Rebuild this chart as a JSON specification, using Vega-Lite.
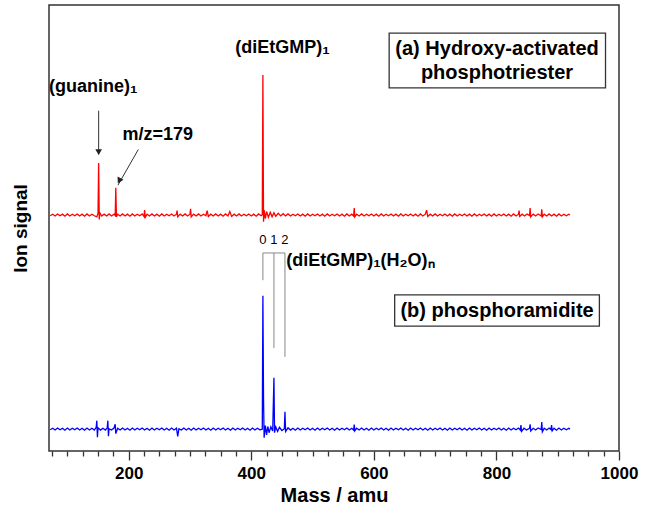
{
  "$schema": "https://vega.github.io/schema/vega-lite/v6.json",
  "width": 570,
  "height": 446,
  "autosize": {"type": "none"},
  "padding": {"left": 49, "top": 5, "right": 26, "bottom": 63},
  "background": "white",
  "config": {
    "view": {"stroke": "#333", "strokeWidth": 1.5},
    "font": "Liberation Sans"
  },
  "datasets": {
    "spectra": [
      {"m":72,"s":52.75,"k":"a"},{"m":76,"s":53.1,"k":"a"},{"m":80,"s":52.7,"k":"a"},{"m":84,"s":53.15,"k":"a"},{"m":88,"s":52.75,"k":"a"},{"m":92,"s":53.1,"k":"a"},{"m":96,"s":52.65,"k":"a"},{"m":100,"s":53.15,"k":"a"},{"m":104,"s":52.7,"k":"a"},{"m":108,"s":53.1,"k":"a"},{"m":112,"s":52.75,"k":"a"},{"m":116,"s":53.15,"k":"a"},{"m":120,"s":52.7,"k":"a"},{"m":124,"s":53.1,"k":"a"},{"m":128,"s":52.65,"k":"a"},{"m":132,"s":53.15,"k":"a"},{"m":136,"s":52.7,"k":"a"},{"m":140,"s":53.1,"k":"a"},{"m":144,"s":52.75,"k":"a"},{"m":148,"s":52.5,"k":"a"},{"m":150,"s":53.3,"k":"a"},{"m":151,"s":64.6,"k":"a"},{"m":152,"s":51.9,"k":"a"},{"m":153,"s":53.4,"k":"a"},{"m":156,"s":52.7,"k":"a"},{"m":160,"s":53.1,"k":"a"},{"m":164,"s":52.7,"k":"a"},{"m":168,"s":53.15,"k":"a"},{"m":172,"s":52.7,"k":"a"},{"m":176,"s":53.1,"k":"a"},{"m":178,"s":52.8,"k":"a"},{"m":179,"s":59.0,"k":"a"},{"m":180,"s":52.5,"k":"a"},{"m":182,"s":53.1,"k":"a"},{"m":186,"s":52.7,"k":"a"},{"m":190,"s":53.15,"k":"a"},{"m":194,"s":52.7,"k":"a"},{"m":198,"s":53.1,"k":"a"},{"m":202,"s":52.65,"k":"a"},{"m":206,"s":53.15,"k":"a"},{"m":210,"s":52.7,"k":"a"},{"m":214,"s":53.1,"k":"a"},{"m":218,"s":52.75,"k":"a"},{"m":222,"s":53.15,"k":"a"},{"m":225,"s":52.6,"k":"a"},{"m":226,"s":54.0,"k":"a"},{"m":227,"s":52.4,"k":"a"},{"m":230,"s":53.1,"k":"a"},{"m":234,"s":52.7,"k":"a"},{"m":238,"s":53.15,"k":"a"},{"m":242,"s":52.7,"k":"a"},{"m":246,"s":53.1,"k":"a"},{"m":250,"s":52.65,"k":"a"},{"m":254,"s":53.15,"k":"a"},{"m":258,"s":52.7,"k":"a"},{"m":262,"s":53.1,"k":"a"},{"m":266,"s":52.75,"k":"a"},{"m":270,"s":53.15,"k":"a"},{"m":274,"s":52.7,"k":"a"},{"m":278,"s":53.1,"k":"a"},{"m":279,"s":53.9,"k":"a"},{"m":280,"s":52.5,"k":"a"},{"m":284,"s":53.1,"k":"a"},{"m":288,"s":52.7,"k":"a"},{"m":292,"s":53.15,"k":"a"},{"m":296,"s":52.7,"k":"a"},{"m":300,"s":53.1,"k":"a"},{"m":301,"s":54.3,"k":"a"},{"m":302,"s":52.5,"k":"a"},{"m":306,"s":53.1,"k":"a"},{"m":310,"s":52.7,"k":"a"},{"m":314,"s":53.15,"k":"a"},{"m":318,"s":52.7,"k":"a"},{"m":322,"s":53.1,"k":"a"},{"m":326,"s":52.75,"k":"a"},{"m":328,"s":53.9,"k":"a"},{"m":330,"s":52.6,"k":"a"},{"m":334,"s":53.1,"k":"a"},{"m":338,"s":52.7,"k":"a"},{"m":342,"s":53.15,"k":"a"},{"m":346,"s":52.7,"k":"a"},{"m":350,"s":53.1,"k":"a"},{"m":354,"s":52.65,"k":"a"},{"m":358,"s":53.15,"k":"a"},{"m":362,"s":52.7,"k":"a"},{"m":365,"s":53.7,"k":"a"},{"m":368,"s":52.6,"k":"a"},{"m":372,"s":53.1,"k":"a"},{"m":376,"s":52.7,"k":"a"},{"m":380,"s":53.15,"k":"a"},{"m":384,"s":52.7,"k":"a"},{"m":388,"s":53.1,"k":"a"},{"m":392,"s":52.75,"k":"a"},{"m":396,"s":53.15,"k":"a"},{"m":400,"s":52.7,"k":"a"},{"m":404,"s":53.1,"k":"a"},{"m":408,"s":52.65,"k":"a"},{"m":412,"s":53.15,"k":"a"},{"m":416,"s":52.75,"k":"a"},{"m":418,"s":53.0,"k":"a"},{"m":419,"s":84.3,"k":"a"},{"m":420,"s":51.4,"k":"a"},{"m":421,"s":54.0,"k":"a"},{"m":423,"s":52.1,"k":"a"},{"m":425,"s":53.7,"k":"a"},{"m":428,"s":52.4,"k":"a"},{"m":431,"s":53.5,"k":"a"},{"m":434,"s":52.5,"k":"a"},{"m":437,"s":53.4,"k":"a"},{"m":440,"s":52.6,"k":"a"},{"m":444,"s":53.3,"k":"a"},{"m":448,"s":52.7,"k":"a"},{"m":452,"s":53.2,"k":"a"},{"m":456,"s":52.7,"k":"a"},{"m":460,"s":53.15,"k":"a"},{"m":464,"s":52.7,"k":"a"},{"m":468,"s":53.1,"k":"a"},{"m":472,"s":52.75,"k":"a"},{"m":476,"s":53.15,"k":"a"},{"m":480,"s":52.7,"k":"a"},{"m":484,"s":53.1,"k":"a"},{"m":488,"s":52.65,"k":"a"},{"m":492,"s":53.15,"k":"a"},{"m":496,"s":52.7,"k":"a"},{"m":500,"s":53.1,"k":"a"},{"m":504,"s":52.75,"k":"a"},{"m":508,"s":53.15,"k":"a"},{"m":512,"s":52.7,"k":"a"},{"m":516,"s":53.1,"k":"a"},{"m":520,"s":52.65,"k":"a"},{"m":524,"s":53.15,"k":"a"},{"m":528,"s":52.7,"k":"a"},{"m":532,"s":53.1,"k":"a"},{"m":536,"s":52.75,"k":"a"},{"m":540,"s":53.15,"k":"a"},{"m":544,"s":52.7,"k":"a"},{"m":548,"s":53.1,"k":"a"},{"m":552,"s":52.65,"k":"a"},{"m":556,"s":53.15,"k":"a"},{"m":560,"s":52.7,"k":"a"},{"m":564,"s":53.1,"k":"a"},{"m":567,"s":52.7,"k":"a"},{"m":568,"s":54.5,"k":"a"},{"m":569,"s":52.5,"k":"a"},{"m":572,"s":53.1,"k":"a"},{"m":576,"s":52.7,"k":"a"},{"m":580,"s":53.15,"k":"a"},{"m":584,"s":52.7,"k":"a"},{"m":588,"s":53.1,"k":"a"},{"m":592,"s":52.75,"k":"a"},{"m":596,"s":53.15,"k":"a"},{"m":600,"s":52.7,"k":"a"},{"m":604,"s":53.1,"k":"a"},{"m":608,"s":52.65,"k":"a"},{"m":612,"s":53.15,"k":"a"},{"m":616,"s":52.7,"k":"a"},{"m":620,"s":53.1,"k":"a"},{"m":624,"s":52.75,"k":"a"},{"m":628,"s":53.15,"k":"a"},{"m":632,"s":52.7,"k":"a"},{"m":636,"s":53.1,"k":"a"},{"m":640,"s":52.65,"k":"a"},{"m":644,"s":53.15,"k":"a"},{"m":648,"s":52.7,"k":"a"},{"m":652,"s":53.1,"k":"a"},{"m":656,"s":52.75,"k":"a"},{"m":660,"s":53.15,"k":"a"},{"m":664,"s":52.7,"k":"a"},{"m":668,"s":53.1,"k":"a"},{"m":672,"s":52.65,"k":"a"},{"m":676,"s":53.15,"k":"a"},{"m":680,"s":52.7,"k":"a"},{"m":684,"s":53.1,"k":"a"},{"m":686,"s":54.0,"k":"a"},{"m":688,"s":52.6,"k":"a"},{"m":692,"s":53.1,"k":"a"},{"m":696,"s":52.7,"k":"a"},{"m":700,"s":53.15,"k":"a"},{"m":704,"s":52.7,"k":"a"},{"m":708,"s":53.1,"k":"a"},{"m":712,"s":52.75,"k":"a"},{"m":716,"s":53.15,"k":"a"},{"m":720,"s":52.7,"k":"a"},{"m":724,"s":53.1,"k":"a"},{"m":728,"s":52.65,"k":"a"},{"m":732,"s":53.15,"k":"a"},{"m":736,"s":52.7,"k":"a"},{"m":740,"s":53.1,"k":"a"},{"m":744,"s":52.75,"k":"a"},{"m":748,"s":53.15,"k":"a"},{"m":752,"s":52.7,"k":"a"},{"m":756,"s":53.1,"k":"a"},{"m":760,"s":52.65,"k":"a"},{"m":764,"s":53.15,"k":"a"},{"m":768,"s":52.7,"k":"a"},{"m":772,"s":53.1,"k":"a"},{"m":776,"s":52.75,"k":"a"},{"m":780,"s":53.15,"k":"a"},{"m":784,"s":52.7,"k":"a"},{"m":788,"s":53.1,"k":"a"},{"m":792,"s":52.65,"k":"a"},{"m":796,"s":53.15,"k":"a"},{"m":800,"s":52.7,"k":"a"},{"m":804,"s":53.1,"k":"a"},{"m":808,"s":52.75,"k":"a"},{"m":812,"s":53.15,"k":"a"},{"m":816,"s":52.7,"k":"a"},{"m":820,"s":53.1,"k":"a"},{"m":824,"s":52.65,"k":"a"},{"m":828,"s":53.15,"k":"a"},{"m":832,"s":52.7,"k":"a"},{"m":836,"s":53.1,"k":"a"},{"m":837,"s":53.9,"k":"a"},{"m":838,"s":52.6,"k":"a"},{"m":842,"s":53.1,"k":"a"},{"m":846,"s":52.7,"k":"a"},{"m":850,"s":53.15,"k":"a"},{"m":854,"s":52.8,"k":"a"},{"m":855,"s":54.5,"k":"a"},{"m":856,"s":52.5,"k":"a"},{"m":860,"s":53.1,"k":"a"},{"m":864,"s":52.7,"k":"a"},{"m":868,"s":53.15,"k":"a"},{"m":873,"s":52.7,"k":"a"},{"m":874,"s":54.2,"k":"a"},{"m":875,"s":52.5,"k":"a"},{"m":878,"s":53.1,"k":"a"},{"m":882,"s":52.7,"k":"a"},{"m":886,"s":53.15,"k":"a"},{"m":890,"s":52.7,"k":"a"},{"m":894,"s":53.1,"k":"a"},{"m":898,"s":52.65,"k":"a"},{"m":902,"s":53.15,"k":"a"},{"m":906,"s":52.7,"k":"a"},{"m":910,"s":53.1,"k":"a"},{"m":914,"s":52.75,"k":"a"},{"m":918,"s":53.1,"k":"a"},{"m":920,"s":52.9,"k":"a"},
      {"m":72,"s":4.75,"k":"b"},{"m":76,"s":5.1,"k":"b"},{"m":80,"s":4.7,"k":"b"},{"m":84,"s":5.15,"k":"b"},{"m":88,"s":4.75,"k":"b"},{"m":92,"s":5.1,"k":"b"},{"m":96,"s":4.65,"k":"b"},{"m":100,"s":5.15,"k":"b"},{"m":104,"s":4.7,"k":"b"},{"m":108,"s":5.1,"k":"b"},{"m":112,"s":4.75,"k":"b"},{"m":116,"s":5.15,"k":"b"},{"m":120,"s":4.7,"k":"b"},{"m":124,"s":5.1,"k":"b"},{"m":128,"s":4.65,"k":"b"},{"m":132,"s":5.15,"k":"b"},{"m":136,"s":4.7,"k":"b"},{"m":140,"s":5.1,"k":"b"},{"m":144,"s":4.7,"k":"b"},{"m":147,"s":5.3,"k":"b"},{"m":148,"s":6.8,"k":"b"},{"m":149,"s":3.1,"k":"b"},{"m":150,"s":5.2,"k":"b"},{"m":154,"s":4.7,"k":"b"},{"m":158,"s":5.1,"k":"b"},{"m":162,"s":4.7,"k":"b"},{"m":165,"s":5.2,"k":"b"},{"m":166,"s":6.8,"k":"b"},{"m":167,"s":3.3,"k":"b"},{"m":168,"s":5.0,"k":"b"},{"m":172,"s":4.7,"k":"b"},{"m":176,"s":5.15,"k":"b"},{"m":178,"s":6.0,"k":"b"},{"m":179,"s":3.9,"k":"b"},{"m":182,"s":5.1,"k":"b"},{"m":186,"s":4.7,"k":"b"},{"m":190,"s":5.15,"k":"b"},{"m":194,"s":4.7,"k":"b"},{"m":198,"s":5.1,"k":"b"},{"m":202,"s":4.65,"k":"b"},{"m":206,"s":5.15,"k":"b"},{"m":210,"s":4.7,"k":"b"},{"m":214,"s":5.1,"k":"b"},{"m":218,"s":4.75,"k":"b"},{"m":222,"s":5.15,"k":"b"},{"m":226,"s":4.7,"k":"b"},{"m":230,"s":5.1,"k":"b"},{"m":234,"s":4.65,"k":"b"},{"m":238,"s":5.15,"k":"b"},{"m":242,"s":4.7,"k":"b"},{"m":246,"s":5.1,"k":"b"},{"m":250,"s":4.75,"k":"b"},{"m":254,"s":5.15,"k":"b"},{"m":258,"s":4.7,"k":"b"},{"m":262,"s":5.1,"k":"b"},{"m":266,"s":4.65,"k":"b"},{"m":270,"s":5.15,"k":"b"},{"m":274,"s":4.7,"k":"b"},{"m":278,"s":5.1,"k":"b"},{"m":280,"s":3.3,"k":"b"},{"m":282,"s":5.0,"k":"b"},{"m":286,"s":4.7,"k":"b"},{"m":290,"s":5.15,"k":"b"},{"m":294,"s":4.7,"k":"b"},{"m":298,"s":5.1,"k":"b"},{"m":302,"s":4.65,"k":"b"},{"m":306,"s":5.15,"k":"b"},{"m":310,"s":4.7,"k":"b"},{"m":314,"s":5.1,"k":"b"},{"m":318,"s":4.75,"k":"b"},{"m":322,"s":5.15,"k":"b"},{"m":326,"s":4.7,"k":"b"},{"m":330,"s":5.1,"k":"b"},{"m":334,"s":4.65,"k":"b"},{"m":338,"s":5.15,"k":"b"},{"m":342,"s":4.7,"k":"b"},{"m":346,"s":5.1,"k":"b"},{"m":350,"s":4.75,"k":"b"},{"m":354,"s":5.15,"k":"b"},{"m":358,"s":4.7,"k":"b"},{"m":362,"s":5.1,"k":"b"},{"m":366,"s":4.65,"k":"b"},{"m":370,"s":5.15,"k":"b"},{"m":374,"s":4.7,"k":"b"},{"m":378,"s":5.1,"k":"b"},{"m":382,"s":4.75,"k":"b"},{"m":386,"s":5.15,"k":"b"},{"m":390,"s":4.7,"k":"b"},{"m":394,"s":5.1,"k":"b"},{"m":398,"s":4.65,"k":"b"},{"m":402,"s":5.15,"k":"b"},{"m":406,"s":4.7,"k":"b"},{"m":410,"s":5.1,"k":"b"},{"m":414,"s":4.75,"k":"b"},{"m":418,"s":4.9,"k":"b"},{"m":419,"s":34.8,"k":"b"},{"m":420,"s":11.9,"k":"b"},{"m":421,"s":3.0,"k":"b"},{"m":423,"s":5.7,"k":"b"},{"m":425,"s":3.6,"k":"b"},{"m":427,"s":5.5,"k":"b"},{"m":429,"s":4.1,"k":"b"},{"m":432,"s":5.4,"k":"b"},{"m":435,"s":4.5,"k":"b"},{"m":437,"s":16.4,"k":"b"},{"m":438,"s":4.1,"k":"b"},{"m":440,"s":5.4,"k":"b"},{"m":443,"s":4.4,"k":"b"},{"m":446,"s":5.3,"k":"b"},{"m":450,"s":4.6,"k":"b"},{"m":454,"s":5.0,"k":"b"},{"m":455,"s":8.8,"k":"b"},{"m":456,"s":4.4,"k":"b"},{"m":460,"s":5.2,"k":"b"},{"m":464,"s":4.7,"k":"b"},{"m":468,"s":5.1,"k":"b"},{"m":472,"s":4.65,"k":"b"},{"m":476,"s":5.15,"k":"b"},{"m":480,"s":4.7,"k":"b"},{"m":484,"s":5.1,"k":"b"},{"m":488,"s":4.75,"k":"b"},{"m":492,"s":5.15,"k":"b"},{"m":496,"s":4.7,"k":"b"},{"m":500,"s":5.1,"k":"b"},{"m":504,"s":4.65,"k":"b"},{"m":508,"s":5.15,"k":"b"},{"m":512,"s":4.7,"k":"b"},{"m":516,"s":5.1,"k":"b"},{"m":520,"s":4.75,"k":"b"},{"m":524,"s":5.15,"k":"b"},{"m":528,"s":4.7,"k":"b"},{"m":532,"s":5.1,"k":"b"},{"m":536,"s":4.65,"k":"b"},{"m":540,"s":5.15,"k":"b"},{"m":544,"s":4.7,"k":"b"},{"m":548,"s":5.1,"k":"b"},{"m":552,"s":4.75,"k":"b"},{"m":556,"s":5.15,"k":"b"},{"m":560,"s":4.7,"k":"b"},{"m":564,"s":5.1,"k":"b"},{"m":567,"s":4.7,"k":"b"},{"m":568,"s":5.9,"k":"b"},{"m":569,"s":4.5,"k":"b"},{"m":572,"s":5.1,"k":"b"},{"m":576,"s":4.7,"k":"b"},{"m":580,"s":5.15,"k":"b"},{"m":584,"s":4.7,"k":"b"},{"m":588,"s":5.1,"k":"b"},{"m":592,"s":4.65,"k":"b"},{"m":596,"s":5.15,"k":"b"},{"m":600,"s":4.7,"k":"b"},{"m":604,"s":5.1,"k":"b"},{"m":608,"s":4.75,"k":"b"},{"m":612,"s":5.15,"k":"b"},{"m":616,"s":4.7,"k":"b"},{"m":620,"s":5.1,"k":"b"},{"m":624,"s":4.65,"k":"b"},{"m":628,"s":5.15,"k":"b"},{"m":632,"s":4.7,"k":"b"},{"m":636,"s":5.1,"k":"b"},{"m":640,"s":4.75,"k":"b"},{"m":644,"s":5.15,"k":"b"},{"m":648,"s":4.7,"k":"b"},{"m":652,"s":5.1,"k":"b"},{"m":656,"s":4.65,"k":"b"},{"m":660,"s":5.15,"k":"b"},{"m":664,"s":4.7,"k":"b"},{"m":668,"s":5.1,"k":"b"},{"m":672,"s":4.75,"k":"b"},{"m":676,"s":5.15,"k":"b"},{"m":680,"s":4.7,"k":"b"},{"m":684,"s":5.1,"k":"b"},{"m":688,"s":4.65,"k":"b"},{"m":692,"s":5.15,"k":"b"},{"m":696,"s":4.7,"k":"b"},{"m":700,"s":5.1,"k":"b"},{"m":704,"s":4.75,"k":"b"},{"m":708,"s":5.15,"k":"b"},{"m":712,"s":4.7,"k":"b"},{"m":716,"s":5.1,"k":"b"},{"m":720,"s":4.65,"k":"b"},{"m":724,"s":5.15,"k":"b"},{"m":728,"s":4.7,"k":"b"},{"m":732,"s":5.1,"k":"b"},{"m":736,"s":4.75,"k":"b"},{"m":740,"s":5.15,"k":"b"},{"m":744,"s":4.7,"k":"b"},{"m":748,"s":5.1,"k":"b"},{"m":752,"s":4.65,"k":"b"},{"m":756,"s":5.15,"k":"b"},{"m":760,"s":4.7,"k":"b"},{"m":764,"s":5.1,"k":"b"},{"m":768,"s":4.75,"k":"b"},{"m":772,"s":5.15,"k":"b"},{"m":776,"s":4.7,"k":"b"},{"m":780,"s":5.1,"k":"b"},{"m":784,"s":4.65,"k":"b"},{"m":788,"s":5.15,"k":"b"},{"m":792,"s":4.7,"k":"b"},{"m":796,"s":5.1,"k":"b"},{"m":800,"s":4.75,"k":"b"},{"m":804,"s":5.15,"k":"b"},{"m":808,"s":4.7,"k":"b"},{"m":812,"s":5.1,"k":"b"},{"m":816,"s":4.65,"k":"b"},{"m":820,"s":5.15,"k":"b"},{"m":824,"s":4.7,"k":"b"},{"m":828,"s":5.1,"k":"b"},{"m":832,"s":4.75,"k":"b"},{"m":836,"s":5.15,"k":"b"},{"m":839,"s":4.7,"k":"b"},{"m":840,"s":5.8,"k":"b"},{"m":841,"s":4.4,"k":"b"},{"m":845,"s":5.1,"k":"b"},{"m":849,"s":4.7,"k":"b"},{"m":854,"s":5.1,"k":"b"},{"m":855,"s":6.0,"k":"b"},{"m":856,"s":4.5,"k":"b"},{"m":860,"s":5.1,"k":"b"},{"m":864,"s":4.7,"k":"b"},{"m":868,"s":5.15,"k":"b"},{"m":873,"s":4.8,"k":"b"},{"m":874,"s":6.5,"k":"b"},{"m":875,"s":4.3,"k":"b"},{"m":878,"s":5.1,"k":"b"},{"m":882,"s":4.7,"k":"b"},{"m":886,"s":5.15,"k":"b"},{"m":889,"s":4.8,"k":"b"},{"m":890,"s":5.8,"k":"b"},{"m":891,"s":4.5,"k":"b"},{"m":894,"s":5.1,"k":"b"},{"m":898,"s":4.65,"k":"b"},{"m":902,"s":5.15,"k":"b"},{"m":906,"s":4.7,"k":"b"},{"m":910,"s":5.1,"k":"b"},{"m":914,"s":4.75,"k":"b"},{"m":918,"s":5.1,"k":"b"},{"m":920,"s":4.9,"k":"b"}
    ],
    "boxes": [
      {"m":625,"m2":978,"s":93.7,"s2":81.4},
      {"m":634,"m2":968,"s":35.0,"s2":28.0}
    ],
    "arrows": [
      {"m":151,"m2":151,"s":76.3,"s2":66.5},
      {"m":215.7,"m2":182.5,"s":67.6,"s2":59.6}
    ],
    "heads": [
      {"m":151,"s":67.0,"a":180},
      {"m":184.5,"s":60.6,"a":208}
    ],
    "bracket": [
      {"m":419,"m2":455,"s":44.4,"s2":44.4},
      {"m":419,"m2":419,"s":44.4,"s2":38.3},
      {"m":437,"m2":437,"s":44.4,"s2":23.1},
      {"m":455,"m2":455,"s":44.4,"s2":21.1}
    ],
    "centerBold": [
      {"m":142,"s":81.6,"t":"(guanine)₁"},
      {"m":451,"s":90.4,"t":"(diEtGMP)₁"}
    ],
    "boxText": [
      {"m":801,"s":90.2,"t":"(a) Hydroxy-activated"},
      {"m":801,"s":84.8,"t":"phosphotriester"},
      {"m":801,"s":31.4,"t":"(b) phosphoramidite"}
    ],
    "leftBold": [
      {"m":190,"s":70.9,"t":"m/z=179"},
      {"m":457,"s":42.7,"t":"(diEtGMP)₁(H₂O)ₙ"}
    ],
    "digits": [
      {"m":419,"s":47.4,"t":"0"},
      {"m":437,"s":47.4,"t":"1"},
      {"m":455,"s":47.4,"t":"2"}
    ]
  },
  "encoding": {
    "x": {
      "field": "m", "type": "quantitative",
      "scale": {"domain": [70, 1000], "nice": false, "zero": false},
      "axis": {
        "title": "Mass / amu",
        "format": "d",
        "values": [75,100,125,150,175,200,225,250,275,300,325,350,375,400,425,450,475,500,525,550,575,600,625,650,675,700,725,750,775,800,825,850,875,900,925,950,975,1000],
        "labelExpr": "datum.value % 200 == 0 ? datum.label : ''",
        "tickSize": {"condition": {"test": "datum.value % 200 == 0", "value": 9}, "value": 5},
        "tickColor": "#333", "tickWidth": 1.3,
        "domain": false, "grid": false,
        "labelFont": "Liberation Sans", "labelFontWeight": "bold", "labelFontSize": 17, "labelColor": "black",
        "labelPadding": 5, "labelFlush": false, "labelOverlap": false,
        "titleFont": "Liberation Sans", "titleFontWeight": "bold", "titleFontSize": 20, "titleColor": "black",
        "titlePadding": 4
      }
    },
    "y": {
      "field": "s", "type": "quantitative",
      "scale": {"domain": [0, 100], "nice": false, "zero": false},
      "axis": {
        "title": "Ion signal",
        "labels": false, "ticks": false, "domain": false, "grid": false,
        "titleFont": "Liberation Sans", "titleFontWeight": "bold", "titleFontSize": 19, "titleColor": "black",
        "titleAngle": -90, "titleX": -29, "titleY": 223, "titleAlign": "center", "titleBaseline": "middle"
      }
    }
  },
  "layer": [
    {
      "data": {"name": "spectra"},
      "mark": {"type": "line", "strokeWidth": 1.3, "interpolate": "linear"},
      "encoding": {
        "color": {"field": "k", "type": "nominal", "scale": {"domain": ["a","b"], "range": ["#ff0000","#0000ff"]}, "legend": null}
      }
    },
    {
      "data": {"name": "boxes"},
      "mark": {"type": "rect", "fill": "white", "stroke": "#333", "strokeWidth": 1.3},
      "encoding": {"x2": {"field": "m2"}, "y2": {"field": "s2"}}
    },
    {
      "data": {"name": "arrows"},
      "mark": {"type": "rule", "color": "#333", "strokeWidth": 1},
      "encoding": {"x2": {"field": "m2"}, "y2": {"field": "s2"}}
    },
    {
      "data": {"name": "heads"},
      "mark": {"type": "point", "shape": "triangle-up", "filled": true, "color": "#222", "size": 45, "opacity": 1},
      "encoding": {"angle": {"field": "a", "type": "quantitative", "scale": null}}
    },
    {
      "data": {"name": "bracket"},
      "mark": {"type": "rule", "color": "#888", "strokeWidth": 1},
      "encoding": {"x2": {"field": "m2"}, "y2": {"field": "s2"}}
    },
    {
      "data": {"name": "centerBold"},
      "mark": {"type": "text", "font": "Liberation Sans", "fontWeight": "bold", "fontSize": 18, "align": "center", "baseline": "middle", "color": "black"},
      "encoding": {"text": {"field": "t"}}
    },
    {
      "data": {"name": "boxText"},
      "mark": {"type": "text", "font": "Liberation Sans", "fontWeight": "bold", "fontSize": 20, "align": "center", "baseline": "middle", "color": "black"},
      "encoding": {"text": {"field": "t"}}
    },
    {
      "data": {"name": "leftBold"},
      "mark": {"type": "text", "font": "Liberation Sans", "fontWeight": "bold", "fontSize": 18, "align": "left", "baseline": "middle", "color": "black"},
      "encoding": {"text": {"field": "t"}}
    },
    {
      "data": {"name": "digits"},
      "mark": {"type": "text", "font": "Liberation Sans", "fontSize": 13, "align": "center", "baseline": "middle", "color": "black"},
      "encoding": {"text": {"field": "t"}}
    }
  ]
}
